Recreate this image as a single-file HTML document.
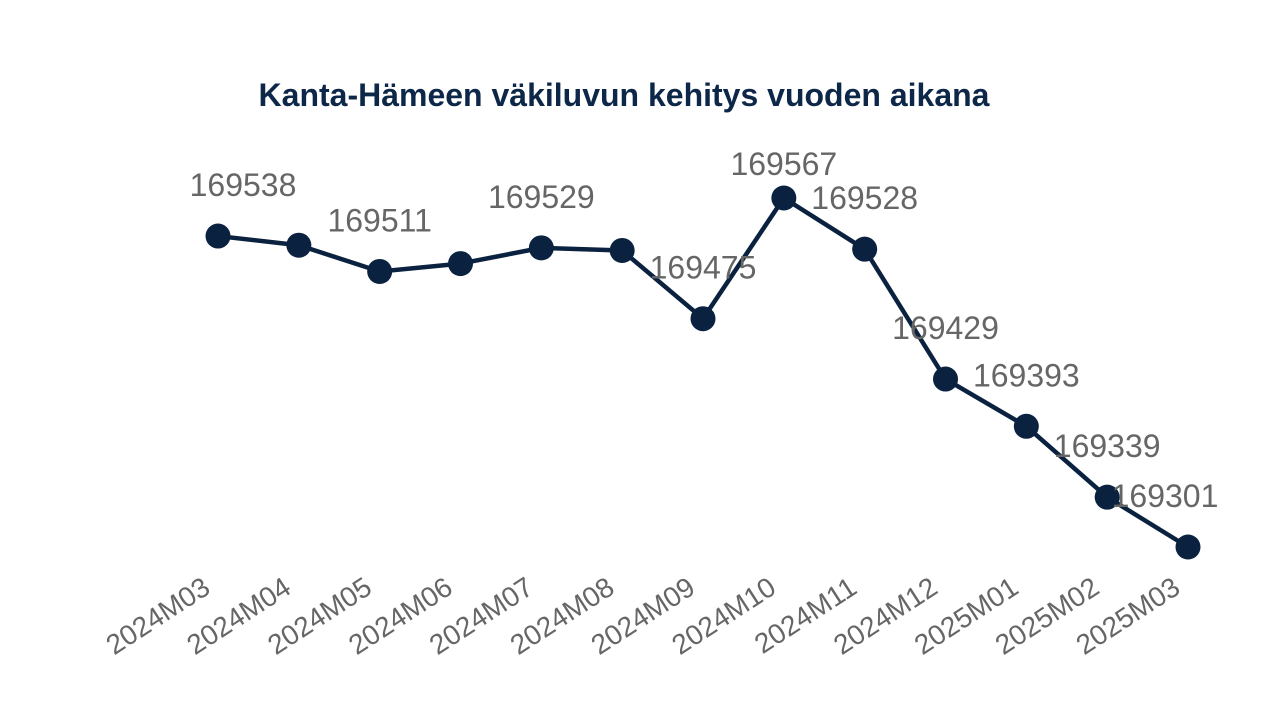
<!DOCTYPE html>
<html><head><meta charset="utf-8"><style>
body{margin:0;background:#fff;width:1280px;height:720px;overflow:hidden;font-family:"Liberation Sans",sans-serif}
</style></head><body>
<svg id="chart" width="1280" height="720">
<text x="624" y="106" text-anchor="middle" font-size="32" font-weight="bold" fill="#0d2748">Kanta-Hämeen väkiluvun kehitys vuoden aikana</text>
</svg>
<script>
const categories=["2024M03","2024M04","2024M05","2024M06","2024M07","2024M08","2024M09","2024M10","2024M11","2024M12","2025M01","2025M02","2025M03"];
const values=[169538,169531,169511,169517,169529,169527,169475,169567,169528,169429,169393,169339,169301];
const showLabel=[1,0,1,0,1,0,1,1,1,1,1,1,1];
const svg=document.getElementById('chart');
const NS='http://www.w3.org/2000/svg';
const x=i=>218+i*(970/12);
const y=v=>198+(169567-v)*(349/266);
function el(t,a){const e=document.createElementNS(NS,t);for(const k in a)e.setAttribute(k,a[k]);svg.appendChild(e);return e;}
const line=el('polyline',{points:values.map((v,i)=>x(i)+','+y(v)).join(' '),fill:'none',stroke:'#0a2240','stroke-width':4.5,'stroke-linejoin':'round'});


values.forEach((v,i)=>{
 const c=el('circle',{cx:x(i),cy:y(v),r:12.5,fill:'#0a2240'});
 
 
 if(showLabel[i]){
  let dx=0,dy=-40;
  if(i===0)dx=25;
  if(i===categories.length-1)dx=-23;
  if(i===7)dy=-23;
  const t=el('text',{x:x(i)+dx,y:y(v)+dy,'text-anchor':'middle','font-size':32,fill:'#666'});
  t.textContent=v;
  
  
 }
 const lx=x(i)-6,ly=592;
 const tl=el('text',{x:lx,y:ly,'text-anchor':'end','font-size':28,fill:'#666',transform:`rotate(-33 ${lx} ${ly})`});
 tl.textContent=categories[i];
 
 
});
</script>
</body></html>
